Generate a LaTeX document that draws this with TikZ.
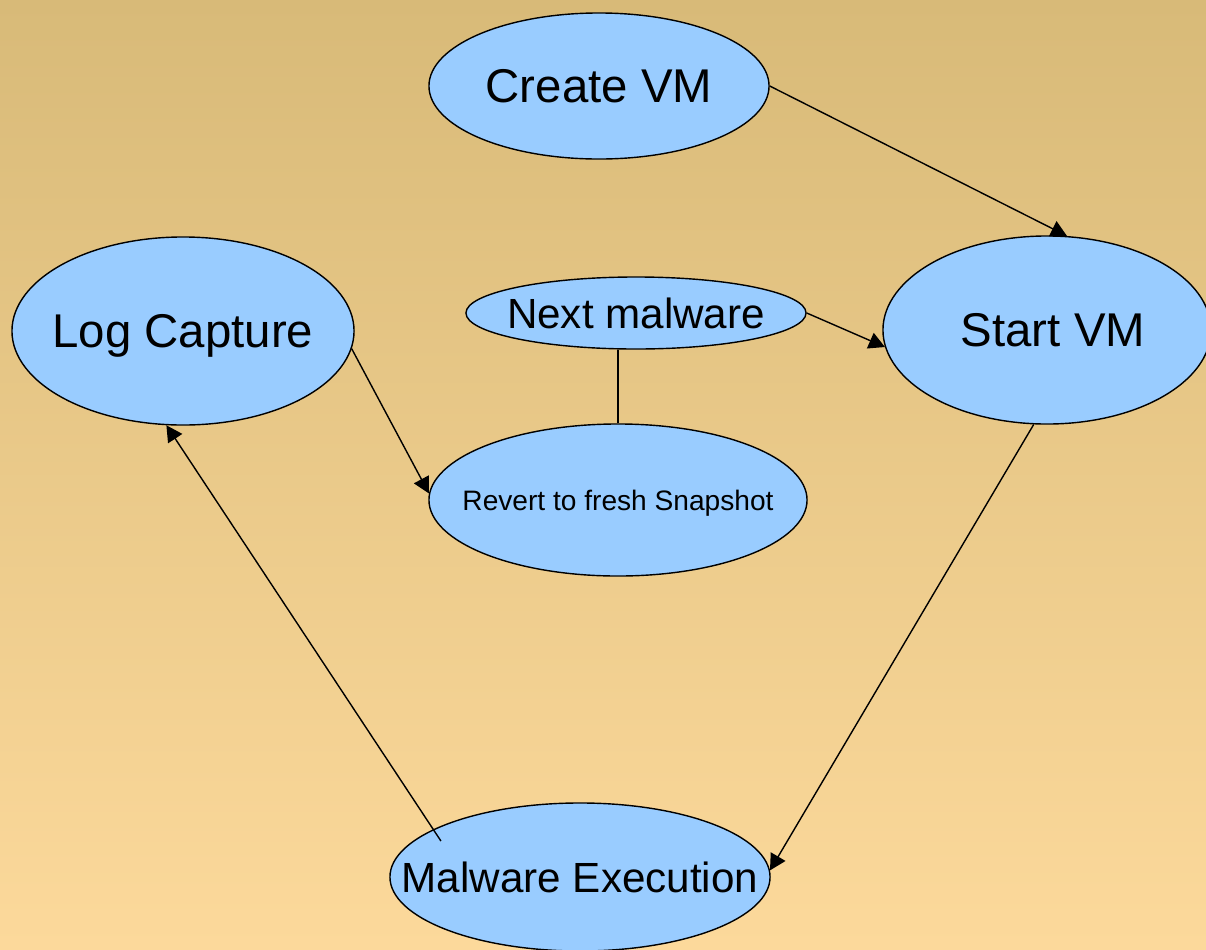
\documentclass[tikz,border=0pt]{standalone}
\usepackage{fontspec}
\setmainfont{Liberation Sans}
\usetikzlibrary{shapes.geometric,arrows.meta}

\definecolor{bubble}{HTML}{99CCFF}
\definecolor{sandtop}{RGB}{216,186,120}
\definecolor{sandbottom}{RGB}{252,217,155}

\begin{document}
\begin{tikzpicture}[x=0.025cm, y=-0.025cm,
    stage/.style={ellipse, draw=black, line width=1pt, fill=bubble,
                  inner sep=0pt, text depth=0pt},
    big/.style={font=\fontsize{33.7}{40}\selectfont, text height=24.1pt},
    mid/.style={font=\fontsize{30}{36}\selectfont, text height=21.5pt},
    small/.style={font=\fontsize{20}{24}\selectfont, text height=14.3pt},
    flow/.style={line width=1pt, -{Triangle[length=0.4cm,width=0.42cm]}}]

% -----------------------------
% Background
% -----------------------------
\shade[top color=sandtop, bottom color=sandbottom] (0,0) rectangle (1206,949);
\useasboundingbox (0,0) rectangle (1206,949);

% -----------------------------
% Stages
% -----------------------------
\node[stage, big, minimum width=8.5cm, minimum height=3.65cm] (create) at (599,86) {\makebox[0pt]{Create VM}};
\node[stage, big, minimum width=8.2cm, minimum height=4.7cm] (start) at (1047,330) {\makebox[0pt]{\hspace{0.3cm}Start VM}};
\node[stage, big, minimum width=8.55cm, minimum height=4.7cm] (logcap) at (183,331) {\makebox[0pt]{Log Capture}};
\node[stage, mid, minimum width=8.5cm, minimum height=1.8cm] (next) at (636,313) {\makebox[0pt]{Next malware}};
\node[stage, small, minimum width=9.45cm, minimum height=3.8cm] (revert) at (618,500) {\makebox[0pt]{Revert to fresh Snapshot}};
\node[stage, mid, minimum width=9.5cm, minimum height=3.7cm] (exec) at (580,877) {\makebox[0pt]{Malware Execution}};

% -----------------------------
% Connectors
% -----------------------------
\draw[flow] (create.east) -- (start.78);
\draw[flow] (next.east) -- (start.186);
\draw[line width=1pt] (revert.north) -- (revert.north |- next.south);   % plain link
\draw[flow] (logcap.-6) -- (revert.178);
\draw[flow] (start.262) -- (exec.2);
\draw[flow, shorten <=-0.35cm] (exec.162) -- (logcap.260);

\end{tikzpicture}
\end{document}
